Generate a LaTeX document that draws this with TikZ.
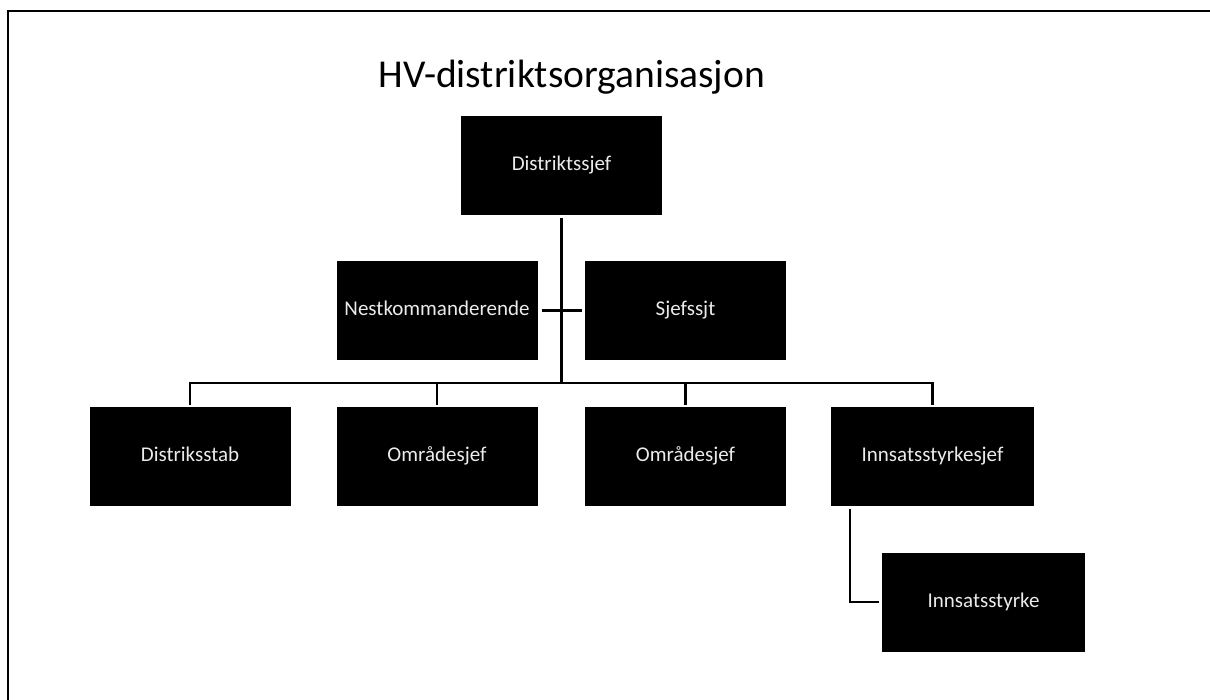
\documentclass[tikz,border=0pt]{standalone}
\usepackage{fontspec}
\setmainfont{Carlito}
\begin{document}
\begin{tikzpicture}[x=1pt,y=-1pt,
  unit/.style={fill=black, text=white!92!black, inner sep=0pt,
    minimum width=201pt, minimum height=99pt,
    font=\fontsize{21}{24}\selectfont, text height=1.05em, text depth=0pt},
  link/.style={line width=2.4pt, line join=miter},
]
\useasboundingbox (0,0) rectangle (1210,700);
% outer frame (only the top and left edges are on the page)
\draw[line width=2pt] (8,700) -- (8,11) -- (1210,11);

\node[font=\fontsize{39.5}{44}\selectfont, anchor=base] (title) at (572,88) {HV-distriktsorganisasjon};

\node[unit] (chief) at (561.5,165.5) {Distriktssjef};
\node[unit] (deputy) at (437,310.5) {Nestkommanderende};
\node[unit] (csm) at (685.5,310.5) {Sjefssjt};

\node[unit] (staff) at (190,456.5) {Distriksstab};
\node[unit] (area1) at (437,456.5) {Områdesjef};
\node[unit] (area2) at (685.5,456.5) {Områdesjef};
\node[unit, minimum width=203pt] (qrfchief) at (932.5,456.5) {Innsatsstyrkesjef};
\node[unit, minimum width=203pt] (qrf) at (983.5,602) {Innsatsstyrke};

\coordinate (bus) at (561.5,383);
\coordinate (qrfdrop) at ([xshift=19pt]qrfchief.south west);

\draw[link, shorten <=3pt] (chief.south) -- (bus);
\draw[link, shorten <=4pt, shorten >=3pt] (deputy.east) -- (csm.west);
\foreach \c in {staff,area1,area2,qrfchief}
  \draw[link, shorten >=2pt] (bus) -| (\c.north);
\draw[link, shorten <=3pt, shorten >=3pt] (qrfdrop) |- (qrf.west);
\end{tikzpicture}
\end{document}
